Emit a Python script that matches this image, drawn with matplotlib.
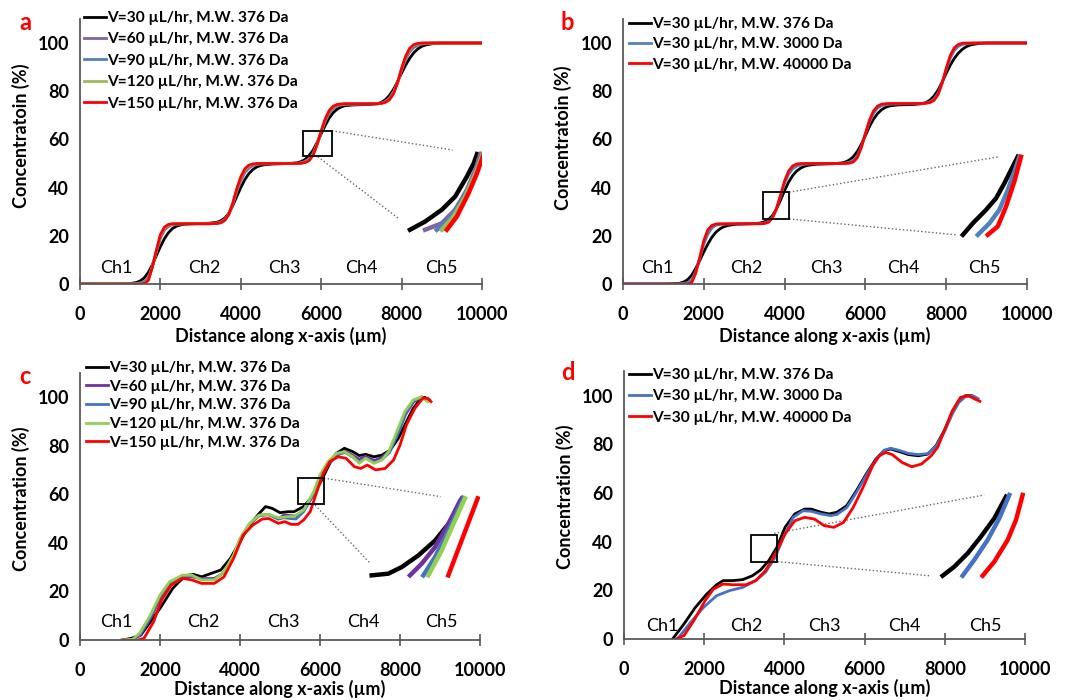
import matplotlib
matplotlib.use("Agg")
import matplotlib.pyplot as plt
from matplotlib.patches import Rectangle

plt.rcParams['font.family'] = ['Lato', 'DejaVu Sans']

# ---------------- data ----------------
ticks_x = [0, 2000, 4000, 6000, 8000, 10000]
ticks_y = [0, 20, 40, 60, 80, 100]
channels = ["Ch1", "Ch2", "Ch3", "Ch4", "Ch5"]

# panel a / b common x grid (um)
x_ab = [0, 1000, 1200, 1400, 1500, 1600, 1700, 1800, 1900, 2000,
        2100, 2200, 2300, 2400, 2500, 2600, 2800, 3200, 3400, 3500,
        3600, 3700, 3800, 3900, 4000, 4100, 4200, 4300, 4400, 4500,
        4600, 4800, 5200, 5400, 5500, 5600, 5700, 5800, 5900, 6000,
        6100, 6200, 6300, 6400, 6500, 6600, 6800, 7200, 7400, 7500,
        7600, 7700, 7800, 7900, 8000, 8100, 8200, 8300, 8400, 8500,
        8600, 8800, 9000, 10000]

a_v30 = [0, 0, 0.1, 0.6, 1.3, 2.6, 4.8, 8.0, 11.8, 15.5,
         18.8, 21.3, 23.0, 24.0, 24.5, 24.8, 25.0, 25.2, 25.6, 26.2,
         27.3, 29.3, 32.5, 36.3, 40.0, 43.3, 45.8, 47.5, 48.6, 49.2,
         49.5, 49.8, 50.0, 50.3, 50.8, 51.7, 53.3, 55.6, 58.7, 62.3,
         65.8, 68.9, 71.1, 72.6, 73.5, 74.0, 74.3, 74.5, 74.8, 75.4,
         76.5, 78.3, 80.8, 84.0, 87.5, 90.8, 93.6, 95.9, 97.5, 98.6,
         99.2, 99.8, 100, 100]
a_v60 = [0, 0, 0.03, 0.2, 0.5, 1.0, 2.6, 7.3, 13.3, 19.0,
         22.3, 23.9, 24.6, 24.8, 24.9, 25.0, 25.0, 25.1, 25.3, 25.7,
         26.8, 29.0, 33.2, 38.3, 42.9, 46.2, 48.1, 49.1, 49.6, 49.8,
         49.8, 49.9, 50.0, 50.1, 50.3, 50.9, 52.0, 54.3, 58.2, 63.1,
         67.5, 70.8, 72.8, 73.8, 74.3, 74.5, 74.6, 74.7, 74.8, 75.1,
         75.8, 77.2, 79.7, 83.7, 88.7, 93.2, 96.3, 98.1, 99.0, 99.5,
         99.8, 100, 100, 100]
a_v90 = [0, 0, 0, 0.1, 0.3, 0.6, 2.1, 7.2, 13.6, 19.7,
         22.9, 24.3, 24.8, 24.9, 25.0, 25.0, 25.0, 25.0, 25.2, 25.6,
         26.6, 28.9, 33.3, 38.9, 43.7, 47.0, 48.7, 49.5, 49.8, 49.9,
         49.9, 50.0, 50.0, 50.1, 50.2, 50.7, 51.6, 53.9, 58.1, 63.3,
         68.0, 71.4, 73.3, 74.2, 74.5, 74.7, 74.7, 74.8, 74.8, 75.0,
         75.6, 76.9, 79.4, 83.6, 89.1, 93.8, 97.0, 98.7, 99.4, 99.8,
         99.9, 100, 100, 100]
a_v120 = [0, 0, 0, 0.05, 0.15, 0.4, 1.8, 7.1, 13.8, 20.1,
          23.2, 24.5, 24.9, 25.0, 25.0, 25.0, 25.0, 25.0, 25.1, 25.5,
          26.5, 28.8, 33.4, 39.2, 44.1, 47.4, 49.0, 49.7, 49.9, 50.0,
          50.0, 50.0, 50.0, 50.0, 50.1, 50.5, 51.4, 53.7, 58.0, 63.4,
          68.2, 71.7, 73.6, 74.4, 74.6, 74.8, 74.8, 74.8, 74.8, 75.0,
          75.5, 76.7, 79.2, 83.5, 89.3, 94.2, 97.4, 99.0, 99.6, 99.9,
          100, 100, 100, 100]
a_v150 = [0, 0, 0, 0, 0, 0.2, 1.5, 7.0, 14.0, 20.5,
          23.6, 24.7, 25.0, 25.0, 25.0, 25.0, 25.0, 25.0, 25.1, 25.4,
          26.4, 28.8, 33.5, 39.5, 44.5, 47.8, 49.3, 49.8, 50.0, 50.0,
          50.0, 50.0, 50.0, 50.0, 50.1, 50.4, 51.2, 53.5, 58.0, 63.5,
          68.5, 72.0, 73.8, 74.5, 74.7, 74.8, 74.8, 74.8, 74.8, 75.0,
          75.4, 76.5, 79.0, 83.5, 89.5, 94.5, 97.8, 99.3, 99.8, 100,
          100, 100, 100, 100]

b_mw376 = [0, 0, 0.05, 0.3, 0.8, 1.8, 3.6, 6.5, 9.8, 13.3,
           16.6, 19.4, 21.5, 22.9, 23.8, 24.3, 24.8, 25.0, 25.3, 25.8,
           26.7, 28.4, 31.2, 34.8, 38.8, 42.3, 45.0, 46.9, 48.1, 48.9,
           49.3, 49.7, 49.9, 50.2, 50.6, 51.4, 52.8, 55.0, 58.0, 61.6,
           65.3, 68.4, 70.7, 72.3, 73.3, 73.9, 74.3, 74.5, 74.8, 75.3,
           76.3, 78.0, 80.5, 83.8, 87.4, 90.8, 93.6, 95.8, 97.4, 98.5,
           99.2, 99.8, 100, 100]
b_mw3000 = [0, 0, 0, 0.1, 0.25, 0.6, 1.5, 5.2, 10.7, 16.6,
            20.7, 23.2, 24.4, 24.7, 24.8, 24.9, 25.0, 25.0, 25.1, 25.3,
            25.9, 27.6, 31.3, 36.4, 41.8, 45.6, 47.8, 48.9, 49.4, 49.7,
            49.8, 49.9, 50.0, 50.1, 50.2, 50.5, 51.3, 53.1, 57.0, 62.3,
            67.2, 70.8, 73.0, 74.0, 74.4, 74.6, 74.7, 74.8, 74.9, 75.1,
            75.6, 76.8, 79.2, 83.5, 88.9, 93.7, 96.9, 98.6, 99.4, 99.7,
            99.9, 100, 100, 100]
b_mw40000 = [0, 0, 0, 0, 0, 0, 0.5, 4.5, 11.0, 18.0,
             22.5, 24.3, 24.9, 25.0, 25.0, 25.0, 25.0, 25.0, 25.0, 25.1,
             25.6, 27.3, 31.3, 37.0, 42.8, 46.9, 49.0, 49.8, 50.0, 50.0,
             50.0, 50.0, 50.0, 50.0, 50.0, 50.1, 50.6, 52.4, 56.6, 62.5,
             68.0, 71.8, 73.8, 74.6, 74.8, 74.9, 74.9, 74.9, 74.9, 75.0,
             75.3, 76.2, 78.6, 83.3, 89.5, 94.8, 98.0, 99.4, 99.9, 100,
             100, 100, 100, 100]

# panel c
c_x_v30 = [1070, 1280, 1520, 1760, 2000, 2155, 2320, 2450, 2640, 2840, 3040, 3280, 3520,
           3760, 4000, 4240, 4480, 4640, 4800, 5000, 5200, 5350, 5590, 5840, 6040, 6245,
           6410, 6610, 6820, 6980, 7140, 7350, 7550, 7755, 7960, 8160, 8330, 8490, 8610, 8735]
c_v30 = [0, 0.7, 2, 7.5, 13, 17, 21.3, 23.5, 26.5, 27, 26, 27.4, 28.8,
         33.6, 40.5, 47.3, 52.1, 54.9, 54.2, 52.4, 52.8, 52.8, 54.9, 59.7, 65.8, 72.7,
         76.8, 78.9, 77.5, 75.9, 76.4, 75.4, 76.1, 78.2, 83, 89.8, 95.3, 98.8, 99.9, 98.8]
c_x_mid = [1050, 1300, 1500, 1760, 2000, 2240, 2560, 2800, 3040, 3360, 3600, 3840, 4000,
           4240, 4480, 4720, 4960, 5100, 5250, 5400, 5590, 5840, 6020, 6220, 6420, 6630,
           6820, 6980, 7140, 7360, 7560, 7740, 7940, 8140, 8340, 8540, 8700]
c_v60 = [0, 0.2, 1.8, 8.8, 16.8, 23, 26, 26, 25.3, 25.3, 27.8, 34.5, 41.2,
         47.6, 51.2, 51.7, 49.8, 51.5, 51.2, 51.0, 53.2, 59.8, 66.5, 72.5, 76.0, 77.6,
         76.0, 74.4, 75.6, 73.9, 75.3, 78.0, 84.6, 92.8, 98.0, 100, 98.5]
c_v90 = [0, 0.2, 2.3, 9.6, 17.8, 23.6, 26.4, 26.3, 24.9, 24.9, 27.9, 34.8, 41.5,
         47.8, 51.3, 51.5, 49.8, 50.3, 50.0, 49.8, 52.8, 60.0, 67.2, 73.0, 76.3, 77.2,
         75.3, 73.3, 74.8, 73.0, 74.4, 77.2, 84.8, 93.3, 98.4, 100, 98.3]
c_x_v120 = [1050, 1320, 1500, 1760, 2000, 2240, 2560, 2800, 3040, 3360, 3600, 3840, 4000,
            4240, 4480, 4720, 4960, 5200, 5350, 5590, 5840, 6000, 6200, 6410, 6610, 6820,
            6980, 7140, 7350, 7550, 7715, 7920, 8120, 8330, 8530, 8690]
c_v120 = [0, 0.3, 3, 10.3, 18.5, 24, 26.7, 26.7, 24.7, 24.7, 28.1, 35, 41.8,
          48, 51.4, 51.7, 50.3, 50.8, 50.8, 53.5, 61, 67.9, 73.4, 76.8, 77.5, 75.4,
          72.7, 74.8, 72.7, 74.1, 77.5, 85.7, 94, 98.8, 100, 98.1]
c_x_v150 = [1100, 1300, 1450, 1600, 1840, 2040, 2280, 2560, 2800, 3040, 3360, 3600, 3840,
            4080, 4320, 4560, 4720, 4960, 5120, 5280, 5450, 5590, 5755, 5920, 6080, 6245,
            6450, 6650, 6860, 7020, 7180, 7390, 7630, 7840, 8000, 8160, 8370, 8570, 8690, 8775]
c_v150 = [0, -0.3, 0, 0.7, 7.5, 16.5, 22.6, 25.4, 24.7, 23.3, 23.3, 26, 33.6,
          43.2, 47.3, 49.8, 50, 48, 48.7, 47.6, 47.6, 49.4, 52.8, 61, 68.6, 73.4,
          75.4, 74.8, 71.3, 70.6, 72, 70, 70.6, 74.1, 80.2, 88.5, 95.3, 99.5, 99.5, 98.1]

# panel d
d_x_mw376 = [1211, 1496, 1780, 2065, 2309, 2472, 2715, 2959, 3203, 3407, 3610, 3813, 4016,
             4260, 4504, 4667, 4911, 5114, 5312, 5555, 5798, 6040, 6284, 6486, 6648, 6850,
             7093, 7336, 7580, 7782, 7984, 8187, 8349, 8511, 8673, 8795]
d_mw376 = [0, 6.2, 13, 18.5, 22.3, 24, 24, 24.4, 26, 28.4, 32.2, 37.7, 45.9,
           51.4, 53.4, 53.4, 52.1, 51.4, 52.1, 54.8, 61, 67.8, 74, 77.4, 78.1, 77.1,
           75.8, 75.3, 76, 79.5, 85.6, 93.2, 97.9, 100, 100, 98.6]
d_x_mw3000 = [1333, 1659, 1984, 2309, 2634, 2959, 3285, 3528, 3772, 3976, 4220, 4463, 4667,
              4911, 5154, 5312, 5555, 5798, 6040, 6284, 6486, 6648, 6850, 7093, 7336, 7580,
              7782, 7984, 8187, 8349, 8511, 8700, 8830]
d_mw3000 = [0, 6.8, 13, 17.8, 19.9, 21.2, 24, 27.4, 33.6, 41.8, 50, 52.7, 52.5,
            51.4, 50.7, 51.2, 54.0, 60.3, 67.2, 73.6, 77.6, 78.4, 77.6, 76.3, 75.8, 76.2,
            79.2, 85.0, 92.5, 97.2, 99.6, 100, 98.8]
d_x_mw40000 = [1293, 1496, 1740, 2024, 2228, 2472, 2715, 3041, 3285, 3528, 3772, 4016, 4260,
               4504, 4748, 4992, 5231, 5474, 5717, 5960, 6202, 6364, 6527, 6689, 6931, 7175,
               7417, 7660, 7822, 8025, 8187, 8390, 8592, 8754, 8876]
d_mw40000 = [0, 1.4, 7.5, 15.8, 20.5, 22.6, 22.3, 22.3, 24, 28.1, 34.9, 43.2, 48.6,
             50, 49.3, 46.6, 45.9, 47.9, 54.1, 62.3, 71.2, 75.3, 76.7, 75.8, 72.6, 70.8,
             71.9, 75.3, 78.8, 87, 93.8, 99.3, 100, 98.6, 97.7]

# magnified (zoom) curves drawn in each panel
a_zoom = {
    "V=30":  ([8208, 8583, 9000, 9333, 9625, 9792, 9875], [22.5, 25.9, 30.8, 36.3, 44.6, 50, 53.9]),
    "V=60":  ([8583, 9000, 9333, 9625, 9833, 9958], [22.5, 25.2, 30.8, 39, 47.3, 53.9]),
    "V=90":  ([8875, 9167, 9500, 9833, 10000], [22.5, 26.6, 34.9, 45.9, 53.9]),
    "V=120": ([9000, 9292, 9583, 9875, 10017], [22.5, 28, 36.3, 47.3, 53.9]),
    "V=150": ([9125, 9375, 9667, 9875, 10042], [22.5, 28, 37.7, 45.9, 53.9]),
}
b_zoom = {
    "376":   ([8412, 8658, 8988, 9235, 9440, 9646, 9770], [20.4, 25.2, 30.8, 35.6, 41.8, 48.7, 52.8]),
    "3000":  ([8782, 9070, 9317, 9523, 9687, 9811], [20.4, 25.2, 30.8, 39, 46.6, 52.8]),
    "40000": ([9029, 9276, 9481, 9687, 9852], [20.4, 23.9, 32.1, 42.5, 52.8]),
}
c_zoom = {
    "V=30":  ([7292, 7708, 8042, 8458, 8875, 9208, 9458, 9583], [26.6, 27.3, 30, 34.8, 40.9, 47.7, 54.6, 58.3]),
    "V=60":  ([8250, 8542, 8875, 9208, 9500, 9542], [26.6, 31.4, 38.2, 47.7, 57.3, 58.3]),
    "V=90":  ([8583, 8875, 9208, 9583], [26.6, 34.1, 45, 58.3]),
    "V=120": ([8708, 9042, 9333, 9625], [26.6, 36.8, 47.7, 58.3]),
    "V=150": ([9208, 9942], [26.6, 58.3]),
}
d_zoom = {
    "376":   ([7945, 8236, 8569, 8902, 9235, 9526], [26, 29.7, 35.2, 42.1, 49.6, 58.5]),
    "3000":  ([8444, 8735, 9068, 9359, 9609], [26, 32.5, 40.7, 49.6, 59.2]),
    "40000": ([8944, 9235, 9567, 9775, 9942], [26, 31.8, 40.7, 48.9, 59.2]),
}

# ---------------- figure ----------------
W, H = 1075, 700
fig = plt.figure(figsize=(W / 100, H / 100), dpi=100)

def px_axes(x0, x1, y0, ytop):
    return fig.add_axes([x0 / W, 1 - y0 / H, (x1 - x0) / W, (y0 - ytop) / H])

AX_COL = '#595959'
FS_TICK = 13
FS_LAB = 13
FS_LEG = 11.2
FS_CH = 13

def style(ax, ylabel, ch_pos, ch_y, ylab_pos, xlabelpad=3):
    ax.set_xlim(0, 10000)
    ax.set_ylim(0, 110)
    for s in ['top', 'right']:
        ax.spines[s].set_visible(False)
    for s in ['left', 'bottom']:
        ax.spines[s].set_color(AX_COL)
        ax.spines[s].set_linewidth(1.3)
    ax.set_xticks(ticks_x)
    ax.set_yticks(ticks_y)
    ax.tick_params(axis='x', direction='inout', length=9, width=1.2, color=AX_COL,
                   labelsize=FS_TICK, pad=11)
    ax.tick_params(axis='y', length=0, labelsize=FS_TICK, pad=8)
    for lab in ax.get_xticklabels() + ax.get_yticklabels():
        lab.set_fontweight('bold')
    ax.set_xlabel("Distance along x-axis (µm)", fontsize=FS_LAB, fontweight='bold', labelpad=xlabelpad)
    ax.set_ylabel(ylabel, fontsize=FS_LAB, fontweight='bold', labelpad=4)
    ax.yaxis.set_label_coords(-0.125, ylab_pos)
    for name, cx in zip(channels, ch_pos):
        ax.text(cx, ch_y, name, ha='center', va='center', fontsize=FS_CH)
    ax.patch.set_alpha(0)

def zoom_marks(ax, box, l1, l2):
    x0, x1, y0, y1 = box
    ax.add_patch(Rectangle((x0, y0), x1 - x0, y1 - y0, fill=False, ec='black', lw=1.3, zorder=6))
    ax.plot(l1[0], l1[1], ls=':', color='#666666', lw=1.0, zorder=1)
    ax.plot(l2[0], l2[1], ls=':', color='#666666', lw=1.0, zorder=1)

def legend(ax, anchor, spacing):
    leg = ax.legend(loc='upper left', bbox_to_anchor=anchor, bbox_transform=fig.transFigure,
                    frameon=False, fontsize=FS_LEG, handlelength=1.42, handletextpad=0.05,
                    labelspacing=spacing, borderpad=0, borderaxespad=0)
    for t in leg.get_texts():
        t.set_fontweight('bold')
    return leg

LW = 2.0

# colours
k = 'black'
pa, ba, ga, ra = '#8064A2', '#4F81BD', '#9BBB59', '#FF0000'
pc, bc, gc = '#7030A0', '#4472C4', '#92D050'

# ---- panel a
ax = px_axes(80, 482, 284, 284 - 110 * 2.41)
labels5 = ["V=30 µL/hr, M.W. 376 Da", "V=60 µL/hr, M.W. 376 Da", "V=90 µL/hr, M.W. 376 Da",
           "V=120 µL/hr, M.W. 376 Da", "V=150 µL/hr, M.W. 376 Da"]
for ys, col, lab in zip([a_v30, a_v60, a_v90, a_v120, a_v150], [k, pa, ba, ga, ra], labels5):
    ax.plot(x_ab, ys, color=col, lw=LW, label=lab)
for (key, (zx, zy)), col in zip(a_zoom.items(), [k, pa, ba, ga, ra]):
    ax.plot(zx, zy, color=col, lw=3.2)
zoom_marks(ax, (5542, 6267, 53.1, 63.6), ([6267, 9267], [63.6, 55.6]), ([5917, 7917], [52.8, 27.3]))
style(ax, "Concentratoin (%)", [900, 3100, 5080, 7000, 9000], 6.6, 0.56)
legend(ax, (84 / W, 1 - 11 / H), 0.48)
fig.text(25 / W, 1 - 22 / H, 'a', color='#FF0000', fontsize=17, fontweight='bold', ha='center', va='center')

# ---- panel b
ax = px_axes(623, 1027, 284, 284 - 110 * 2.41)
labels3 = ["V=30 µL/hr, M.W. 376 Da", "V=30 µL/hr, M.W. 3000 Da", "V=30 µL/hr, M.W. 40000 Da"]
for ys, col, lab in zip([b_mw376, b_mw3000, b_mw40000], [k, ba, ra], labels3):
    ax.plot(x_ab, ys, color=col, lw=LW, label=lab)
for (key, (zx, zy)), col in zip(b_zoom.items(), [k, ba, ra]):
    ax.plot(zx, zy, color=col, lw=3.2)
zoom_marks(ax, (3473, 4115, 27.0, 38.1), ([4115, 9300], [38.1, 52.8]), ([4115, 8247], [27.0, 20.4]))
style(ax, "Concentratoin (%)", [850, 3060, 5040, 6950, 8950], 6.6, 0.55)
legend(ax, (629 / W, 1 - 17 / H), 0.41)
fig.text(567 / W, 1 - 22 / H, 'b', color='#FF0000', fontsize=17, fontweight='bold', ha='center', va='center')

# ---- panel c
ax = px_axes(80, 480, 640, 640 - 110 * 2.43)
c_series = [(c_x_v30, c_v30, k), (c_x_mid, c_v60, pc), (c_x_mid, c_v90, bc),
            (c_x_v120, c_v120, gc), (c_x_v150, c_v150, ra)]
for (xs, ys, col), lab in zip(c_series, labels5):
    ax.plot(xs, ys, color=col, lw=LW, label=lab)
for (key, (zx, zy)), col in zip(c_zoom.items(), [k, pc, bc, gc, ra]):
    ax.plot(zx, zy, color=col, lw=3.2)
zoom_marks(ax, (5450, 6100, 56.0, 66.6), ([6100, 9020], [66.6, 59.0]), ([5878, 7241], [55.5, 31.8]))
style(ax, "Concentration (%)", [900, 3090, 5080, 7085, 9025], 7.5, 0.53, xlabelpad=1)
legend(ax, (86 / W, 1 - 361 / H), 0.3)
fig.text(25 / W, 1 - 376 / H, 'c', color='#FF0000', fontsize=17, fontweight='bold', ha='center', va='center')

# ---- panel d
ax = px_axes(624, 1025, 639, 639 - 110 * 2.433)
d_series = [(d_x_mw376, d_mw376, k), (d_x_mw3000, d_mw3000, bc), (d_x_mw40000, d_mw40000, ra)]
for (xs, ys, col), lab in zip(d_series, labels3):
    ax.plot(xs, ys, color=col, lw=LW, label=lab)
for (key, (zx, zy)), col in zip(d_zoom.items(), [k, bc, ra]):
    ax.plot(zx, zy, color=col, lw=3.2)
zoom_marks(ax, (3161, 3827, 31.8, 42.7), ([3744, 8985], [43.4, 59.2]), ([3827, 7612], [31.8, 26.0]))
style(ax, "Concentration (%)", [960, 3062, 4985, 6990, 9010], 5.2, 0.53, xlabelpad=1)
legend(ax, (629 / W, 1 - 368 / H), 0.48)
fig.text(568 / W, 1 - 373 / H, 'd', color='#FF0000', fontsize=17, fontweight='bold', ha='center', va='center')

fig.savefig("out.png", dpi=100)
